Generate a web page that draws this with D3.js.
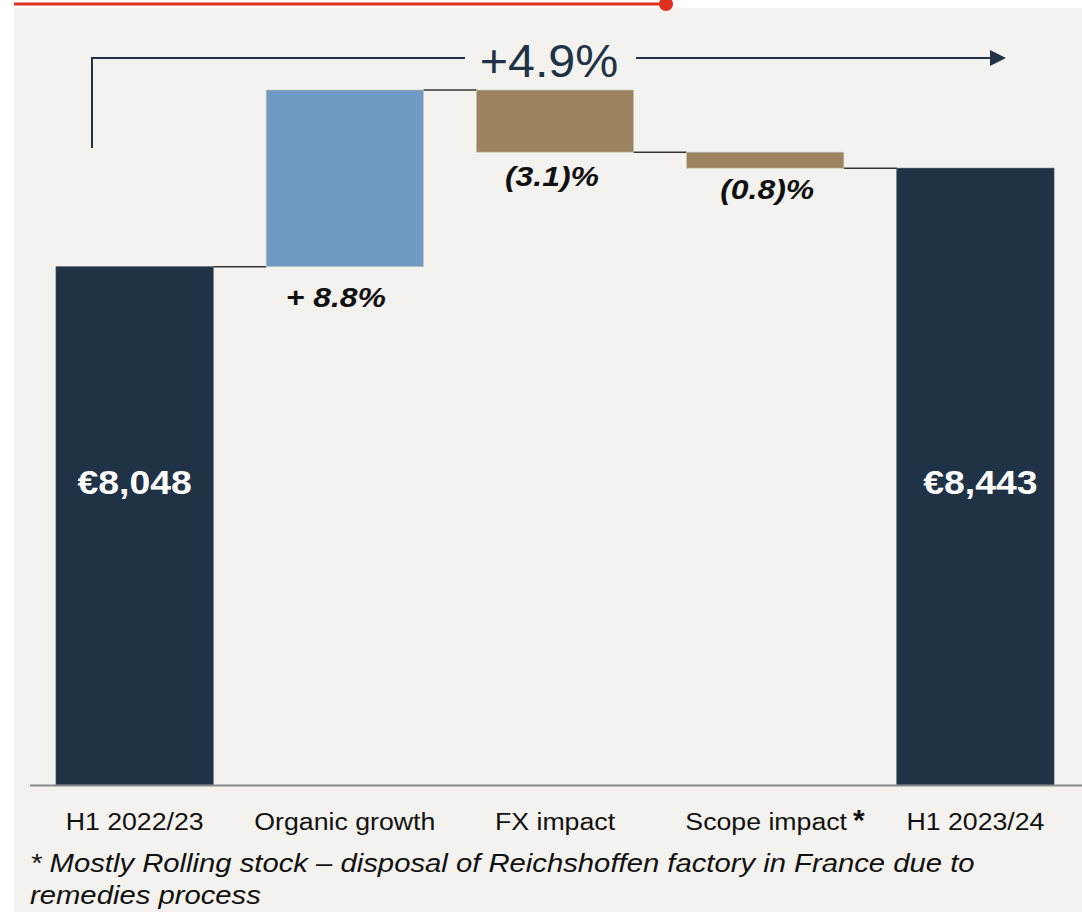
<!DOCTYPE html>
<html><head><meta charset="utf-8">
<script src="https://cdn.jsdelivr.net/npm/d3@7"></script>
<style>
html,body{margin:0;padding:0;background:#fff;}
svg{display:block;font-family:"Liberation Sans",Arial,sans-serif;}
</style></head><body>
<svg id="c" width="1082" height="912"></svg>
<script>
const categories = ["H1 2022/23","Organic growth","FX impact","Scope impact","H1 2023/24"];
const kinds = ["total","up","down","down","total"];
const values = [8048, 708, -249, -64, 8443];
const valueLabels = ["€8,048","+ 8.8%","(3.1)%","(0.8)%","€8,443"];
const totalChange = "+4.9%";
const footnote = ["* Mostly Rolling stock – disposal of Reichshoffen factory in France due to","remedies process"];
const colors = {total:"#1f3246", up:"#6f9ac4", down:"#9b845f"};

function stretch(sel, f){
  sel.each(function(){
    const w = this.getComputedTextLength();
    d3.select(this).attr("textLength", w*f).attr("lengthAdjust","spacingAndGlyphs");
  });
}

const svg = d3.select("#c");
svg.append("rect").attr("x",14).attr("y",8).attr("width",1068).attr("height",904).attr("fill","#f3f2ee");
svg.append("line").attr("x1",14).attr("x2",666).attr("y1",4).attr("y2",4).attr("stroke","#e03020").attr("stroke-width",3);
svg.append("circle").attr("cx",666).attr("cy",4).attr("r",7).attr("fill","#e03020");

const x = d3.scaleBand().domain(categories).range([29.5,1080.5]).paddingInner(0.252).paddingOuter(0.126);
const y = d3.scaleLinear().domain([5972, 8756]).range([785, 90]);

let run = 0;
const segs = categories.map((c,i)=>{
  let lo, hi;
  if (kinds[i]==="total"){ lo = y.domain()[0]; hi = values[i]; run = values[i]; }
  else { const s = run; run = run + values[i]; lo = Math.min(s,run); hi = Math.max(s,run); }
  return {c, kind:kinds[i], lo, hi, end:run, label:valueLabels[i]};
});

for (let i=0;i<segs.length-1;i++){
  svg.append("line")
    .attr("x1", x(categories[i])+x.bandwidth()).attr("x2", x(categories[i+1]))
    .attr("y1", y(segs[i].end)).attr("y2", y(segs[i].end))
    .attr("stroke","#333").attr("stroke-width",1.5);
}
svg.selectAll("rect.bar").data(segs).join("rect").attr("class","bar")
  .attr("x",d=>x(d.c)).attr("width",x.bandwidth())
  .attr("y",d=>y(d.hi)).attr("height",d=>y(d.lo)-y(d.hi))
  .attr("fill",d=>colors[d.kind])
  .attr("stroke",d=>d.kind==="total"?"#3a4b5d":"#c9c4b8").attr("stroke-width",0.6);

svg.append("line").attr("x1",30).attr("x2",1082).attr("y1",785.5).attr("y2",785.5).attr("stroke","#8a8a8a").attr("stroke-width",2);

const ax = d3.axisBottom(x).tickSize(0).tickPadding(0);
const g = svg.append("g").attr("transform","translate(0,830)").call(ax);
g.select(".domain").remove();
g.selectAll("text").attr("font-size",23).attr("fill","#111").attr("dy",0)
  .attr("font-family","Liberation Sans, Arial, sans-serif");
g.selectAll(".tick").filter(d=>d==="Scope impact").select("text").attr("dx",1);
stretch(g.selectAll("text"), 1.16);
const sNode = g.selectAll(".tick").filter(d=>d==="Scope impact").select("text").node();
const sLen = +sNode.getAttribute("textLength");
svg.append("text").attr("x",x("Scope impact")+x.bandwidth()/2+1+sLen/2+6).attr("y",830)
  .attr("font-size",30).attr("font-weight","bold").attr("fill","#111").text("*");

segs.forEach((d,i)=>{
  const cx = x(d.c)+x.bandwidth()/2;
  let t;
  if (d.kind==="total"){
    t = svg.append("text").attr("x",cx+(i===0?0:5)).attr("y",494)
      .attr("text-anchor","middle").attr("font-size",34).attr("font-weight","bold").attr("fill","#fff").text(d.label);
    stretch(t, 1.1);
  } else {
    const off = d.kind==="up" ? 40 : (i===2 ? 34 : 31);
    const dx = d.kind==="up" ? -9 : (i===2 ? -3 : 2);
    t = svg.append("text").attr("x",cx+dx).attr("y",y(d.lo)+off)
      .attr("text-anchor","middle").attr("font-size",28).attr("font-weight","bold").attr("font-style","italic")
      .attr("fill","#111").text(d.label);
    stretch(t, 1.14);
  }
});

const bx0 = 92, by = 58;
svg.append("path").attr("d",`M${bx0},148 V${by} H465`).attr("fill","none").attr("stroke","#1f3246").attr("stroke-width",2);
svg.append("path").attr("d",`M636,${by} H992`).attr("fill","none").attr("stroke","#1f3246").attr("stroke-width",2);
svg.append("path").attr("d",`M990,${by-8} L1006,${by} L990,${by+8} Z`).attr("fill","#1f3246");
const tc = svg.append("text").attr("x",549).attr("y",77).attr("text-anchor","middle").attr("font-size",47)
  .attr("fill","#1f3246").text(totalChange);
stretch(tc, 1.03);

footnote.forEach((t,i)=>{
  const ft = svg.append("text").attr("x",30).attr("y",872+i*32).attr("font-size",26).attr("font-style","italic")
    .attr("fill","#111").text(t);
  stretch(ft, 1.125);
});
</script>
</body></html>
